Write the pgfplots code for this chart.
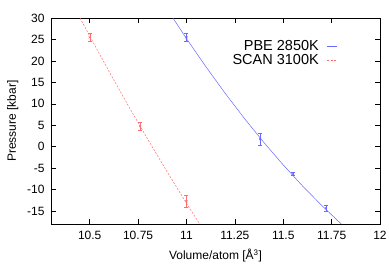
\documentclass[border=0pt]{standalone}
\usepackage{pgfplots}
\pgfplotsset{compat=1.18}
\usepackage{fontspec}
\setmainfont{Liberation Sans}
\definecolor{pbe}{RGB}{105,105,255}
\definecolor{scan}{RGB}{255,110,110}
\begin{document}
\begin{tikzpicture}
\path[use as bounding box] (-51pt,-49pt) rectangle (338pt,224pt);
\begin{axis}[
  at={(0,0)}, anchor=south west,
  scale only axis, width=329pt, height=206pt,
  xmin=10.3, xmax=12, ymin=-18, ymax=30,
  xtick={10.5,10.75,11,11.25,11.5,11.75,12},
  xticklabels={10.5,10.75,11,11.25,11.5,11.75,12},
  ytick={-15,-10,-5,0,5,10,15,20,25,30},
  yticklabels={-15,-10,-5,0,5,10,15,20,25,30},
  tick align=inside, major tick length=5pt,
  tick style={black, line width=0.6pt},
  axis line style={black, line width=0.8pt},
  every tick label/.append style={font=\fontsize{12}{14}\selectfont},
  xticklabel style={yshift=-4pt},
  yticklabel style={xshift=-3pt},
  label style={font=\fontsize{12}{14}\selectfont},
  xlabel={Volume/atom [Å\textsuperscript{3}]},
  ylabel={Pressure [kbar]},
  xlabel style={yshift=-2pt},
  ylabel style={yshift=2pt},
  legend plot pos=right,
  legend cell align=right,
  legend style={draw=none, fill=none, at={(rel axis cs:0.88,0.905)}, anchor=north east,
    nodes={font=\fontsize{14.5}{16}\selectfont, inner sep=1pt}, row sep=0pt, column sep=7pt},
  legend image code/.code={\draw[#1] (0pt,0pt) -- (10pt,0pt);},
]
\addplot[pbe, line width=0.5pt] coordinates {
(10.93,30.0) (11.0,25.2) (11.1,18.67) (11.2,12.45) (11.3,6.56) (11.4,1.0)
(11.5,-4.24) (11.6,-9.15) (11.7,-13.73) (11.8,-18.0)};
\addlegendentry{PBE 2850K}
\addplot[scan, line width=0.5pt, dash pattern=on 2pt off 1.5pt] coordinates {
(10.45,30.0) (10.5,25.8) (10.6,17.55) (10.7,9.52) (10.8,1.73) (10.9,-5.83)
(11.0,-13.16) (11.068,-18.0)};
\addlegendentry{SCAN 3100K}
\addplot[pbe, line width=0.5pt, only marks, mark=x, mark size=1.5pt, forget plot,
  error bars/.cd, y dir=both, y explicit,
  error mark options={rotate=90, mark size=2pt, pbe}] coordinates {
(11.0,25.5) +- (0,1.0)
(11.38,1.8) +- (0,1.4)
(11.55,-6.3) +- (0,0.4)
(11.72,-14.3) +- (0,0.7)};
\addplot[scan, line width=0.5pt, only marks, mark=x, mark size=1.5pt, forget plot,
  error bars/.cd, y dir=both, y explicit,
  error mark options={rotate=90, mark size=2pt, scan}] coordinates {
(10.5,25.5) +- (0,1.0)
(10.76,4.8) +- (0,1.0)
(11.0,-12.7) +- (0,1.5)};
\end{axis}
\end{tikzpicture}
\end{document}
